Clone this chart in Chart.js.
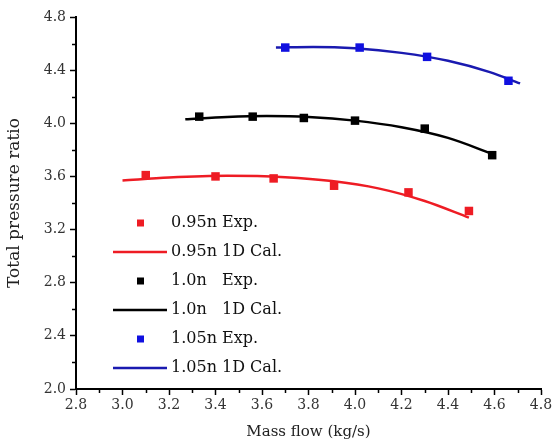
<!DOCTYPE html>
<html>
<head>
<meta charset="utf-8">
<script src="https://cdn.jsdelivr.net/npm/chart.js@4.4.1/dist/chart.umd.min.js"></script>
<style>
  html, body { margin: 0; padding: 0; background: #fff; }
  #wrap { width: 560px; height: 445px; }
</style>
</head>
<body>
<div id="wrap"><canvas id="myChart"></canvas></div>
<script>
// valeurs
const flowExp095 = [3.10, 3.40, 3.65, 3.91, 4.23, 4.49];
const ratioExp095 = [3.61, 3.60, 3.585, 3.53, 3.48, 3.34];
const flowCal095 = [3.0, 3.2, 3.45, 3.7, 3.9, 4.1, 4.3, 4.49];
const ratioCal095 = [3.57, 3.592, 3.605, 3.594, 3.565, 3.51, 3.415, 3.29];

const flowExp100 = [3.33, 3.56, 3.78, 4.00, 4.30, 4.59];
const ratioExp100 = [4.05, 4.05, 4.04, 4.02, 3.96, 3.76];
const flowCal100 = [3.27, 3.45, 3.62, 3.8, 4.0, 4.2, 4.4, 4.59];
const ratioCal100 = [4.03, 4.048, 4.055, 4.048, 4.02, 3.97, 3.89, 3.77];

const flowExp105 = [3.70, 4.02, 4.31, 4.66];
const ratioExp105 = [4.57, 4.57, 4.50, 4.32];
const flowCal105 = [3.66, 3.82, 4.0, 4.2, 4.4, 4.58, 4.71];
const ratioCal105 = [4.57, 4.575, 4.565, 4.53, 4.47, 4.385, 4.30];

const seriesLabels = ['0.95n Exp.', '0.95n 1D Cal.', '1.0n   Exp.', '1.0n   1D Cal.', '1.05n Exp.', '1.05n 1D Cal.'];

const xTicks = { min: 2.8, max: 4.8, step: 0.1 };
const yTicks = { min: 2.0, max: 4.8, step: 0.2 };

const serif = '"DejaVu Serif", "Liberation Serif", serif';
const red = '#ee1c24';
const black = '#000000';
const blue = '#1010e0';

function pts(xs, ys) {
  return xs.map(function(x, i) { return { x: x, y: ys[i] }; });
}

function expSet(label, xs, ys, color) {
  return {
    label: label, data: pts(xs, ys), showLine: false,
    pointStyle: 'rect', pointRadius: 6, pointHoverRadius: 6,
    backgroundColor: color, borderColor: color, borderWidth: 0
  };
}

function calSet(label, xs, ys, color) {
  return {
    label: label, data: pts(xs, ys), showLine: true,
    pointRadius: 0, borderColor: color, borderWidth: 2.5,
    backgroundColor: color, cubicInterpolationMode: 'monotone', fill: false
  };
}

function isMajor(v, every) {
  return Math.round(v * 10) % every === 0;
}

// legende dessinee dans la zone du graphique + petites graduations
const insideLegend = {
  id: 'insideLegend',
  afterDraw: function(chart) {
    const ctx = chart.ctx;
    const x0 = 113, xText = 171, yTop = 223, dy = 29;
    ctx.save();
    ctx.font = '16px ' + serif;
    ctx.textBaseline = 'middle';
    chart.data.datasets.forEach(function(ds, i) {
      const y = yTop + i * dy;
      if (ds.showLine) {
        ctx.strokeStyle = ds.borderColor;
        ctx.lineWidth = 2.5;
        ctx.beginPath();
        ctx.moveTo(x0, y);
        ctx.lineTo(x0 + 54, y);
        ctx.stroke();
      } else {
        ctx.fillStyle = ds.backgroundColor;
        ctx.fillRect(x0 + 24, y - 3.5, 7, 7);
      }
      ctx.fillStyle = '#111';
      ctx.fillText(ds.label, xText, y);
    });

    // graduations mineures
    const xs = chart.scales.x, ys = chart.scales.y;
    ctx.strokeStyle = '#000';
    ctx.lineWidth = 1.5;
    ctx.beginPath();
    xs.ticks.forEach(function(t) {
      if (!isMajor(t.value, 2)) {
        const px = Math.round(xs.getPixelForValue(t.value)) + 0.5;
        ctx.moveTo(px, xs.top);
        ctx.lineTo(px, xs.top + 4);
      }
    });
    ys.ticks.forEach(function(t) {
      if (!isMajor(t.value, 4)) {
        const py = Math.round(ys.getPixelForValue(t.value)) + 0.5;
        ctx.moveTo(ys.right, py);
        ctx.lineTo(ys.right - 4, py);
      }
    });
    ctx.stroke();
    ctx.restore();
  }
};

const ctx = document.getElementById('myChart').getContext('2d');

const config = {
  type: 'scatter',
  data: {
    datasets: [
      expSet(seriesLabels[0], flowExp095, ratioExp095, red),
      calSet(seriesLabels[1], flowCal095, ratioCal095, red),
      expSet(seriesLabels[2], flowExp100, ratioExp100, black),
      calSet(seriesLabels[3], flowCal100, ratioCal100, black),
      expSet(seriesLabels[4], flowExp105, ratioExp105, blue),
      calSet(seriesLabels[5], flowCal105, ratioCal105, '#1a1ab0')
    ]
  },
  options: {
    responsive: true,
    maintainAspectRatio: false,
    animation: false,
    layout: { padding: { top: 17, right: 19, left: 0, bottom: 0 } },
    plugins: {
      legend: { display: false },
      tooltip: { enabled: false }
    },
    scales: {
      x: {
        type: 'linear',
        min: xTicks.min, max: xTicks.max,
        afterFit: function(scale) { scale.height = 56; },
        ticks: {
          stepSize: xTicks.step, maxRotation: 0, autoSkip: false,
          padding: 2, color: '#333', font: { family: serif, size: 14 },
          callback: function(v) { return isMajor(v, 2) ? v.toFixed(1) : ''; }
        },
        grid: {
          drawOnChartArea: false, tickLength: 6, tickWidth: 1.5,
          tickColor: function(c) { return isMajor(c.tick.value, 2) ? '#000' : 'rgba(0,0,0,0)'; }
        },
        border: { color: '#000', width: 2 },
        title: { display: true, text: 'Mass flow (kg/s)', color: '#222', font: { family: serif, size: 15 }, padding: { top: 0 } }
      },
      y: {
        type: 'linear',
        min: yTicks.min, max: yTicks.max,
        afterFit: function(scale) { scale.width = 76; },
        ticks: {
          stepSize: yTicks.step, autoSkip: false,
          padding: 4, color: '#333', font: { family: serif, size: 14 },
          callback: function(v) { return isMajor(v, 4) ? v.toFixed(1) : ''; }
        },
        grid: {
          drawOnChartArea: false, tickLength: 6, tickWidth: 1.5,
          tickColor: function(c) { return isMajor(c.tick.value, 4) ? '#000' : 'rgba(0,0,0,0)'; }
        },
        border: { color: '#000', width: 2 },
        title: { display: true, text: 'Total pressure ratio', color: '#222', font: { family: serif, size: 17 }, padding: { bottom: 0 } }
      }
    }
  },
  plugins: [insideLegend]
};

const chart = new Chart(ctx, config);
</script>
</body>
</html>
